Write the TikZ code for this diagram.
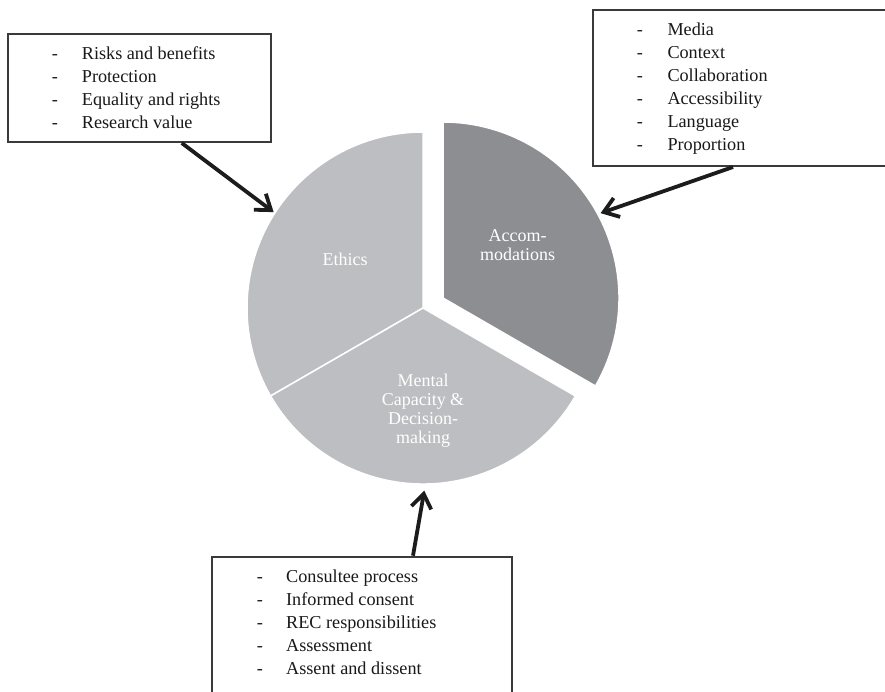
\documentclass[tikz,border=0pt]{standalone}
\usepackage{fontspec}
\setmainfont{Liberation Serif}
\usetikzlibrary{arrows.meta,calc}
\definecolor{pielight}{HTML}{BDBEC1}
\definecolor{piedark}{HTML}{8D8E92}
\definecolor{boxline}{HTML}{3A3A3A}
\definecolor{arrowcol}{HTML}{1C1C1C}
\begin{document}
\begin{tikzpicture}[x=1pt,y=1pt,
  slice/.style={draw=white, line width=1.5pt},
  slicelabel/.style={text=white, font=\fontsize{18}{19}\selectfont, align=center, inner sep=0pt},
  listbox/.style={draw=boxline, line width=2pt, rectangle, inner sep=0pt},
  listtext/.style={font=\fontsize{18.2}{23}\selectfont, inner sep=0pt, anchor=base west, text=black!90},
  arr/.style={draw=arrowcol, line width=3.8pt, -{Straight Barb[length=14pt,width=20pt]}}]
\useasboundingbox (0,0) rectangle (885,-691);
\clip (0,0) rectangle (885,-691);
\fill[white] (0,0) rectangle (885,-691);
% pie
\coordinate (C) at (423,-308);
\coordinate (Ca) at (443,-298);
\filldraw[slice, fill=pielight] (C) -- ++(90:176) arc[start angle=90, end angle=210, radius=176] -- cycle;
\filldraw[slice, fill=pielight] (C) -- ++(210:176) arc[start angle=210, end angle=330, radius=176] -- cycle;
\filldraw[slice, fill=piedark] (Ca) -- ++(-30:176) arc[start angle=-30, end angle=90, radius=176] -- cycle;
% slice labels
\node[slicelabel, anchor=base] (ethlabel) at (345,-265) {Ethics};
\node[slicelabel] (acclabel) at (517.5,-245.5) {Accom-\\modations};
\node[slicelabel] (mclabel) at (423,-410.8) {Mental\\Capacity \&\\Decision-\\making};
% boxes
\node[listbox, minimum width=263pt, minimum height=108pt] (ethbox) at (139,-88) {};
\node[listbox, minimum width=312pt, minimum height=156pt] (accbox) at (749,-88) {};
\node[listbox, minimum width=299.7pt, minimum height=148.3pt] (mcbox) at (362.15,-630.85) {};
\node[listtext] (ethlist) at (51.7,-59.3) {\begin{tabular}[t]{@{}p{30pt}@{}l@{}}
- & Risks and benefits\\
- & Protection\\
- & Equality and rights\\
- & Research value
\end{tabular}};
\node[listtext] (acclist) at (636.7,-35) {\begin{tabular}[t]{@{}p{30.6pt}@{}l@{}}
- & Media\\
- & Context\\
- & Collaboration\\
- & Accessibility\\
- & Language\\
- & Proportion
\end{tabular}};
\node[listtext] (mclist) at (256.7,-582.3) {\begin{tabular}[t]{@{}p{29.3pt}@{}l@{}}
- & Consultee process\\
- & Informed consent\\
- & REC responsibilities\\
- & Assessment\\
- & Assent and dissent
\end{tabular}};
% arrow targets on the pie
\coordinate (ethtip) at ($(C)+(147.3:177.5)$);
\coordinate (acctip) at ($(Ca)+(28.3:179)$);
\coordinate (mctip) at ($(C)+(-89.6:182.7)$);
% connectors
\draw[arr] ([xshift=42.7pt]ethbox.south) -- (ethtip);
\draw[arr] ([xshift=-16pt]accbox.south) -- (acctip);
\draw[arr] ([xshift=50.85pt]mcbox.north) -- (mctip);
\end{tikzpicture}
\end{document}
